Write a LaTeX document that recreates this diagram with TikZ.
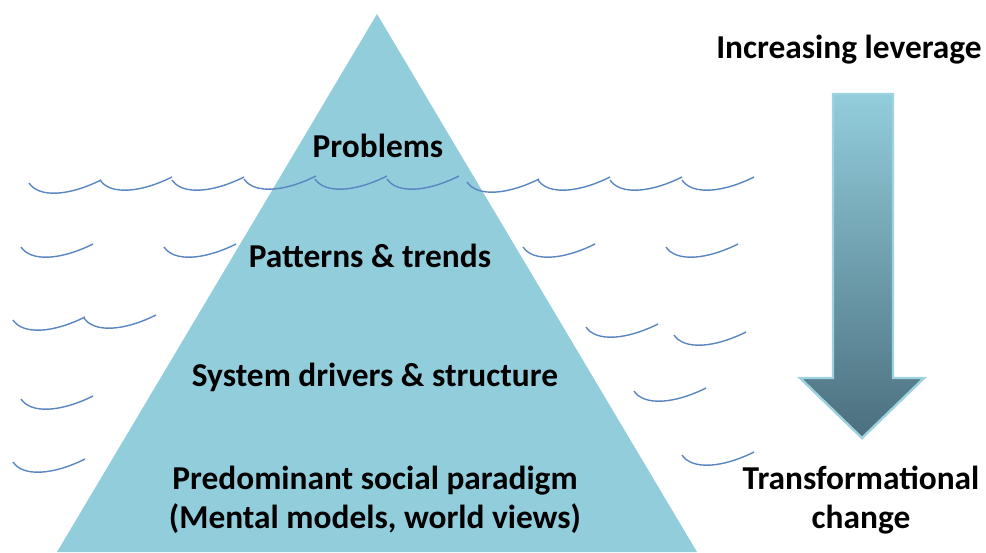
\documentclass[tikz,border=0pt]{standalone}
\usepackage{fontspec}
\setmainfont{Carlito}

\definecolor{berg}{HTML}{92CDDC}
\definecolor{sea}{HTML}{5A86C2}
\definecolor{deep}{HTML}{4B6F7E}

\tikzset{
    ripple/.pic={\draw[sea, line width=0.8pt] (0,0) .. controls (10,15) and (40,13) .. (72,-3);},
    label/.style={font=\fontsize{19}{22}\selectfont\bfseries, align=center}
}

\begin{document}
\begin{tikzpicture}[x=0.02cm, y=-0.02cm]
        \useasboundingbox (0,0) rectangle (986,552);

        % the iceberg
        \fill[berg] (377,14) -- (697,552) -- (57,552) -- cycle;

        % water line, two runs of waves
        \pic at (29,183) {ripple};
        \pic at (100,180) {ripple};
        \pic at (172,180) {ripple};
        \pic at (244,179) {ripple};
        \pic at (315,179) {ripple};
        \pic at (387,179) {ripple};
        \pic at (467,182) {ripple};
        \pic at (538,180) {ripple};
        \pic at (610,180) {ripple};
        \pic at (682,180) {ripple};

        % waves below the surface
        \pic at (21,247) {ripple};
        \pic at (164,247) {ripple};
        \pic at (523,247) {ripple};
        \pic at (666,247) {ripple};

        \pic at (13,320) {ripple};
        \pic at (84,318) {ripple};
        \pic at (586,327) {ripple};
        \pic at (674,335) {ripple};

        \pic at (21,399) {ripple};
        \pic at (634,391) {ripple};

        \pic at (13,462) {ripple};
        \pic at (682,455) {ripple};

        % levels of the iceberg
        \node[label] (problems) at(378,146){Problems};
        \node[label] (patterns) at(370,256){Patterns \& trends};
        \node[label] (drivers) at(375,377){System drivers \& structure};
        \node[label] (paradigm) at(375,500){Predominant social paradigm\\(Mental models, world views)};

        % leverage arrow
        \shade[top color=berg, bottom color=deep]
            (833,94) -- (893,94) -- (893,378) -- (924,378) -- (862,438)
            -- (800,378) -- (833,378) -- cycle;
        \draw[berg!90!white, line width=1.4pt, line join=miter]
            (833,94) -- (893,94) -- (893,378) -- (924,378) -- (862,438)
            -- (800,378) -- (833,378) -- cycle;

        \node[label] (leverage) at(849,50){Increasing leverage};
        \node[label] (change) at(861,500){Transformational\\change};
    \end{tikzpicture}
\end{document}
